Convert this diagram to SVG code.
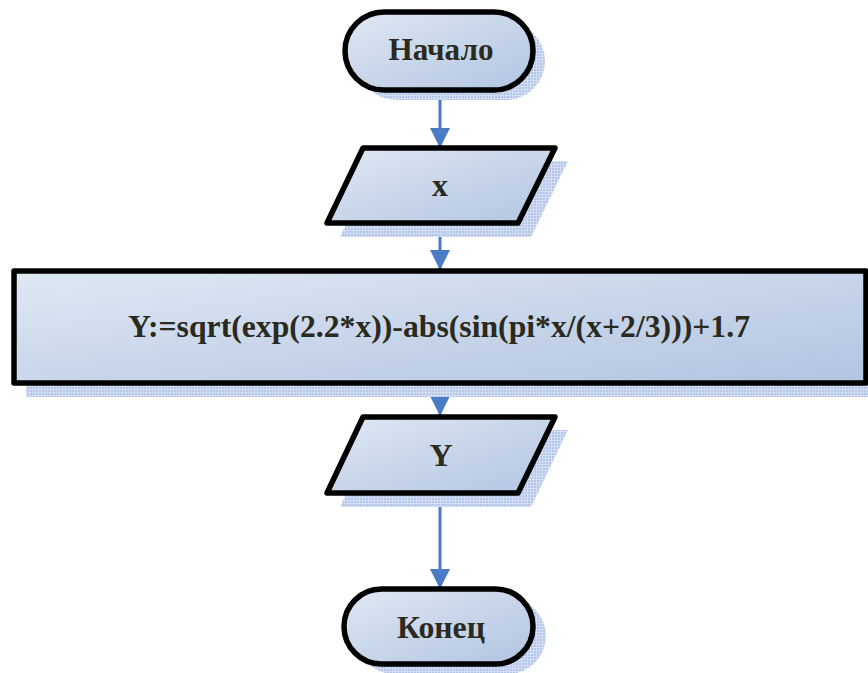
<svg xmlns="http://www.w3.org/2000/svg" width="868" height="673" viewBox="0 0 868 673">
<defs>
<linearGradient id="fillg" x1="0" y1="0" x2="1" y2="1">
<stop offset="0" stop-color="#e0e8f4"/>
<stop offset="1" stop-color="#b1c4e0"/>
</linearGradient>
<pattern id="shad" width="3" height="3" patternUnits="userSpaceOnUse">
<rect width="3" height="3" fill="#d3def2"/>
<rect width="2" height="2" fill="#b3c5e8"/>
</pattern>
<marker id="arr" markerUnits="userSpaceOnUse" markerWidth="22" markerHeight="20" refX="20" refY="10" orient="auto" viewBox="0 0 20 20">
<path d="M0,0 L20,10 L0,20 Z" fill="#4a7bc4"/>
</marker>
</defs>
<style>
.shape{fill:url(#fillg);stroke:#000;stroke-width:5.5;stroke-linejoin:round}
.shadow{fill:url(#shad);stroke:none}
.lbl{font-family:"Liberation Serif","Times New Roman",serif;font-weight:bold;fill:#2a2a20;text-anchor:middle;font-size:32px}
.conn{stroke:#4a7bc4;stroke-width:3;fill:none;marker-end:url(#arr)}
</style>
<g id="connectors">
<line class="conn" x1="440" y1="90" x2="440" y2="148"/>
<line class="conn" x1="440" y1="223" x2="440" y2="270"/>
<line class="conn" x1="440" y1="384" x2="440" y2="416"/>
<line class="conn" x1="440" y1="493" x2="440" y2="589"/>
</g>
<g id="start">
<rect class="shadow" x="357" y="22" width="188" height="78" rx="39"/>
<rect class="shape" x="345" y="12" width="188" height="78" rx="39"/>
<text class="lbl" x="441" y="60" textLength="105" lengthAdjust="spacingAndGlyphs">Начало</text>
</g>
<g id="input-x">
<polygon class="shadow" points="376,161 568,161 531,237 340,237"/>
<polygon class="shape" points="363,148 555,148 518,223 327,223"/>
<text class="lbl" x="440" y="196">x</text>
</g>
<g id="process">
<rect class="shadow" x="26" y="283" width="842" height="114"/>
<rect class="shape" x="14" y="271" width="852" height="112"/>
<text class="lbl" x="439" y="337" textLength="622" lengthAdjust="spacingAndGlyphs">Y:=sqrt(exp(2.2*x))-abs(sin(pi*x/(x+2/3)))+1.7</text>
</g>
<g id="output-y">
<polygon class="shadow" points="376,430 568,430 531,507 340,507"/>
<polygon class="shape" points="363,417 555,417 518,493 327,493"/>
<text class="lbl" x="441" y="466">Y</text>
</g>
<g id="end">
<rect class="shadow" x="356" y="598" width="190" height="76" rx="38"/>
<rect class="shape" x="344" y="589" width="189" height="75" rx="37.5"/>
<text class="lbl" x="441" y="638" textLength="88" lengthAdjust="spacingAndGlyphs">Конец</text>
</g>
</svg>
